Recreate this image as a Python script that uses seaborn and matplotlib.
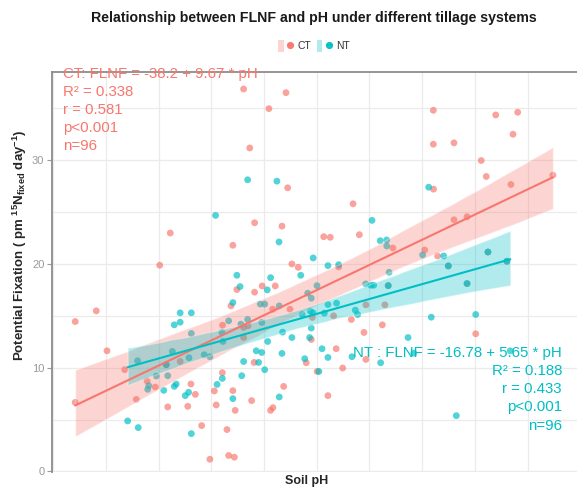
import numpy as np
import pandas as pd
import matplotlib
matplotlib.use("Agg")
import matplotlib.pyplot as plt
import seaborn as sns
from matplotlib.patches import Patch
from matplotlib.lines import Line2D
from matplotlib.legend_handler import HandlerTuple

# ---------------- data ----------------
ct_ph = [5.055, 5.005,
         5.403, 5.604, 5.523, 5.432, 5.612, 5.922, 5.455, 5.585, 5.352, 5.783, 5.814, 5.952, 6.111, 5.632, 5.662, 5.854,
         6.303, 6.599, 6.703, 6.681, 6.303, 6.401, 6.530, 6.554, 6.671, 6.870, 6.304, 6.401, 6.463, 6.262, 6.323, 6.374, 6.562, 6.652,
         6.463, 6.504,
         5.371, 5.491, 5.553, 5.455, 5.343, 5.541, 5.623, 5.983, 6.073, 5.729, 5.830, 5.914, 6.061, 5.403, 5.424, 5.974, 5.403,
         5.724, 5.842, 5.700, 5.983, 5.873, 5.752, 5.453, 5.593, 5.352, 5.803, 5.441, 5.363, 5.542, 5.531, 5.324, 5.332, 5.359, 6.089,
         4.604, 4.704, 4.755, 4.604, 4.839, 4.894, 4.945, 4.984, 5.036, 5.102, 5.153, 5.174, 5.043, 5.138, 5.204, 5.243, 5.273,
         5.264, 5.302, 5.303]
ct_flnf = [22.98, 19.88,
           36.86, 36.51, 34.97, 31.18, 27.34, 25.80, 23.97, 23.65, 21.80, 22.63, 22.57, 22.82, 21.54, 20.00, 19.68, 19.71,
           34.81, 34.36, 34.62, 32.50, 31.54, 31.67, 29.97, 28.43, 27.66, 28.56, 27.21, 24.26, 24.55, 21.35, 20.77, 19.81, 21.15, 20.26,
           18.11, 13.27,
           17.53, 17.88, 17.88, 17.28, 15.96, 15.64, 15.64, 16.06, 16.06, 14.84, 15.00, 14.65, 14.13, 13.88, 14.04, 13.40, 12.91,
           12.72, 11.83, 10.48, 10.80, 9.97, 9.64, 10.51, 8.20, 7.79, 7.31, 6.83, 5.89, 6.15, 5.89, 4.04, 1.54, 1.38, 17.91,
           14.45, 15.48, 11.63, 6.66, 9.81, 6.95, 8.72, 8.14, 10.29, 10.60, 8.43, 7.43, 6.22, 6.28, 4.42, 1.18, 6.41,
           7.76, 9.52, 14.10]

nt_ph = [5.270,
         5.422, 5.561, 6.012, 5.571, 6.051, 6.082, 6.082, 5.733, 5.803, 5.854,
         6.281, 6.252, 6.352, 6.374, 6.562, 6.652,
         6.463, 6.293, 6.504, 6.183, 6.210, 6.668, 6.412,
         5.371, 5.531, 5.674, 5.386, 5.515, 5.751, 5.707, 5.724, 5.352, 5.482, 5.503, 5.572, 5.803, 5.844, 5.933, 5.944,
         5.681, 5.719, 5.732, 5.786, 5.332, 5.390, 5.422, 5.489, 5.588, 5.724, 5.632, 5.716, 5.517, 5.463, 5.489, 5.585,
         5.775, 5.803, 5.693, 5.917, 6.053, 5.760, 5.403, 5.474, 5.503, 5.394, 5.352, 5.572, 5.982, 6.007, 6.020, 6.093, 6.089,
         4.900, 4.853, 4.903, 4.953, 4.948, 4.989, 5.024, 5.043, 5.065, 5.074, 5.102, 5.102, 5.155, 5.155, 5.144, 5.083,
         5.074, 5.142, 5.126, 5.155, 5.277, 5.302, 5.300, 5.305, 5.216, 5.243, 5.036]
nt_flnf = [24.68,
           28.11, 27.98, 24.20, 22.12, 22.24, 22.31, 21.73, 20.58, 19.84, 19.93,
           27.40, 20.87, 20.77, 19.81, 21.15, 20.26,
           18.11, 14.87, 15.13, 12.91, 11.41, 11.63, 5.38,
           18.91, 18.68, 18.91, 17.82, 17.50, 17.91, 17.18, 16.70, 16.28, 16.13, 16.13, 15.96, 16.09, 16.22, 15.55, 15.13,
           15.13, 15.45, 15.29, 15.26, 14.52, 14.20, 14.65, 14.36, 13.43, 13.82, 12.91, 12.91, 12.53, 11.63, 11.47, 11.38,
           11.83, 10.99, 10.87, 11.06, 10.48, 9.64, 10.60, 10.51, 9.81, 9.23, 7.02, 7.18, 18.08, 17.95, 17.95, 19.20, 17.91,
           10.67, 4.87, 4.23, 8.27, 7.92, 9.20, 7.82, 9.23, 11.57, 14.13, 14.39, 15.29, 15.29, 13.30, 10.96, 8.43,
           8.20, 7.63, 7.31, 3.65, 8.39, 8.97, 13.40, 12.53, 11.25, 11.06, 10.29]

systems = ["CT", "NT"]
colors = {"CT": "#F8766D", "NT": "#00BFC4"}
y_ticks = [0, 10, 20, 30]

ct_text = ["CT: FLNF = -38.2 + 9.67 * pH", "R² = 0.338", "r = 0.581", "p<0.001", "n=96"]
nt_text = ["NT : FLNF = -16.78 + 5.65 * pH", "R² = 0.188", "r = 0.433", "p<0.001", "n=96"]

df = pd.concat([
    pd.DataFrame({"pH": ct_ph, "FLNF": ct_flnf, "System": "CT"}),
    pd.DataFrame({"pH": nt_ph, "FLNF": nt_flnf, "System": "NT"}),
], ignore_index=True)

# ---------------- style ----------------
sns.set_theme(style="white")
plt.rcParams["font.family"] = ["Liberation Sans", "DejaVu Sans"]
plt.rcParams["mathtext.fontset"] = "custom"
plt.rcParams["mathtext.rm"] = "Liberation Sans"
plt.rcParams["mathtext.bf"] = "Liberation Sans:bold"
plt.rcParams["mathtext.it"] = "Liberation Sans:italic"

W, H = 577, 488
fig = plt.figure(figsize=(W / 100, H / 100), dpi=100)
# panel: left 52px, top 72px, bottom 472px, extends to right edge
x_left_px, x_right_px = 52, 591
ax = fig.add_axes([x_left_px / W, (H - 472) / H, (x_right_px - x_left_px) / W, (472 - 72) / H])

# points
sns.scatterplot(data=df, x="pH", y="FLNF", hue="System", palette=colors, hue_order=systems,
                s=24, alpha=0.68, linewidth=0, legend=False, ax=ax, zorder=2)

# regression lines + 95% CI bands
for sysname in systems:
    sub = df[df["System"] == sysname]
    sns.regplot(data=sub, x="pH", y="FLNF", scatter=False, ci=95, n_boot=1000, seed=3,
                color=colors[sysname], line_kws={"lw": 1.5, "zorder": 4}, ax=ax, truncate=True)

for coll in ax.collections[1:]:
    if coll.__class__.__name__ in ("PolyCollection", "FillBetweenPolyCollection"):
        coll.set_alpha(0.3)
        coll.set_zorder(3)

ax.set_xlim(4.494, 4.494 + (x_right_px - x_left_px) / 210.8)
ax.set_ylim(-0.05, 38.5)

# grid
ax.set_axisbelow(True)
for v in np.arange(0, 40, 5):
    ax.axhline(v, color="#EBEBEB", lw=0.9, zorder=0)
for v in np.arange(4.5, 7.3, 0.25):
    ax.axvline(v, color="#EBEBEB", lw=0.9, zorder=0)

ax.set_yticks(y_ticks)
ax.set_yticklabels([str(t) for t in y_ticks], color="#9A9A9A", fontsize=8)
ax.tick_params(axis="y", length=3.5, width=0.8, color="#9A9A9A", pad=2, left=True)
ax.set_xticks([])

for side in ["left", "top", "right"]:
    ax.spines[side].set_color("#8C8C8C")
    ax.spines[side].set_linewidth(1.3)
ax.spines["bottom"].set_visible(False)

ax.set_xlabel("")
ax.set_ylabel("")

# axis labels
fig.text(307 / W, 1 - 481 / H, "Soil pH", ha="center", va="center", fontsize=9, fontweight="bold")
fig.text(20 / W, 1 - 245 / H,
         r"Potential Fixation ( pm $^{\mathbf{15}}\mathbf{N}_{\mathbf{fixed}}$ $\mathbf{day}^{\mathbf{-1}}$)",
         ha="center", va="center", rotation=90, fontsize=9.5, fontweight="bold")

# title
fig.text(314 / W, 1 - 18.3 / H, "Relationship between FLNF and pH under different tillage systems",
         ha="center", va="center", fontsize=10.2, fontweight="bold", color="#1A1A1A")

# legend
handles = [(Patch(facecolor=colors[s], alpha=0.3, edgecolor="none"),
            Line2D([], [], color=colors[s], lw=1.3, marker="o", markersize=4.2, alpha=0.9)) for s in systems]
fig.legend(handles, systems, handler_map={tuple: HandlerTuple(ndivide=None)},
           loc="center", bbox_to_anchor=(314 / W, 1 - 46 / H), bbox_transform=fig.transFigure,
           ncol=2, frameon=False, fontsize=7.5, handlelength=1.4, handleheight=1.4,
           columnspacing=0.6, handletextpad=0.4, labelcolor="#333333")

# annotations
ys_ct = [74, 92, 110, 128, 146.5]
for t, yy in zip(ct_text, ys_ct):
    fig.text(63 / W, 1 - yy / H, t, ha="left", va="center", fontsize=10.8, color=colors["CT"], zorder=10)
ys_nt = [352.5, 371, 389, 407.3, 425.7]
for t, yy in zip(nt_text, ys_nt):
    fig.text(562 / W, 1 - yy / H, t, ha="right", va="center", fontsize=10.8, color=colors["NT"], zorder=10)

fig.savefig("out.png", dpi=100)
